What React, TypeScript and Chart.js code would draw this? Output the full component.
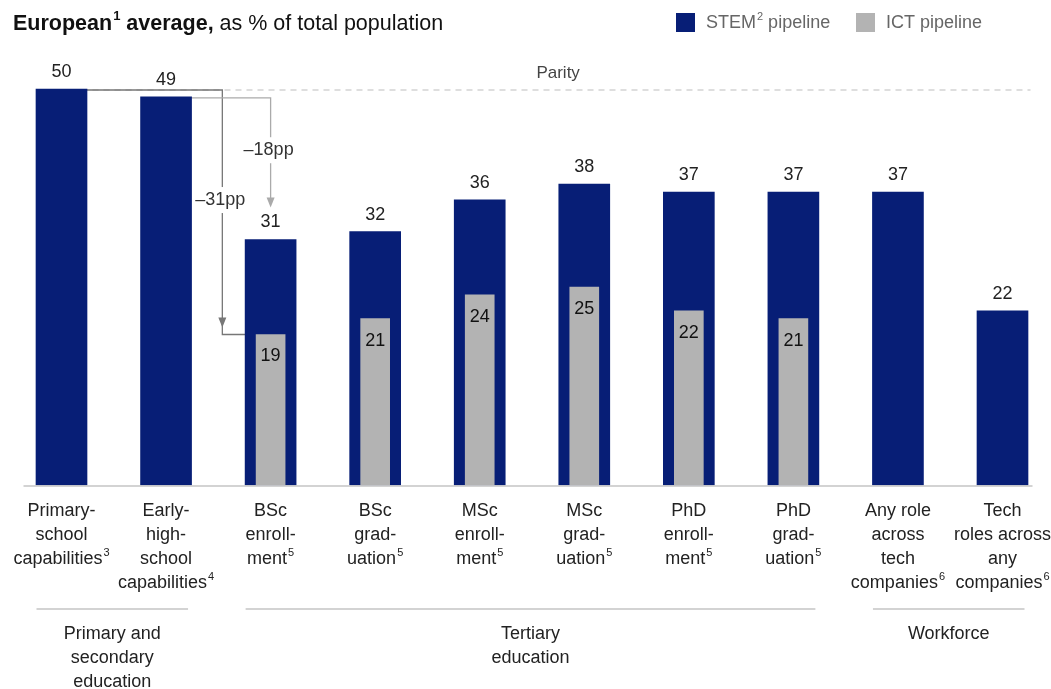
import React, { useEffect, useRef } from "react";
import { Chart, registerables } from "chart.js";

Chart.register(...registerables);

// ---------- data ----------
const categories: string[][] = [
  ["Primary-", "school", "capabilities^3"],
  ["Early-", "high-", "school", "capabilities^4"],
  ["BSc", "enroll-", "ment^5"],
  ["BSc", "grad-", "uation^5"],
  ["MSc", "enroll-", "ment^5"],
  ["MSc", "grad-", "uation^5"],
  ["PhD", "enroll-", "ment^5"],
  ["PhD", "grad-", "uation^5"],
  ["Any role", "across", "tech", "companies^6"],
  ["Tech", "roles across", "any", "companies^6"],
];
const stemValues: number[] = [50, 49, 31, 32, 36, 38, 37, 37, 37, 22];
const ictValues: (number | null)[] = [null, null, 19, 21, 24, 25, 22, 21, null, null];
const parityValue = 50;
const parityLabel = "Parity";
const groups = [
  { label: ["Primary and", "secondary", "education"], from: 0, to: 1 },
  { label: ["Tertiary", "education"], from: 2, to: 7 },
  { label: ["Workforce"], from: 8, to: 9 },
];
const drops = [
  { label: "–31pp", from: 0, to: 2, target: "ict", color: "#777777" },
  { label: "–18pp", from: 1, to: 2, target: "stem", color: "#aaaaaa" },
];
const seriesNames = ["STEM^2^ pipeline", "ICT pipeline"];

// ---------- style ----------
const NAVY = "#071e76";
const GRAY = "#b3b3b3";
const FONT = "'Liberation Sans', Arial, sans-serif";
const TEXT = "#222222";

type Seg = { t: string; bold?: boolean; sup?: boolean };

function segsFrom(text: string, bold = false): Seg[] {
  return text
    .split("^")
    .map((t, i) => ({ t, bold, sup: i % 2 === 1 }))
    .filter((s) => s.t.length > 0);
}

function drawRich(
  ctx: CanvasRenderingContext2D,
  segs: Seg[],
  x: number,
  y: number,
  size: number,
  color: string,
  align: "left" | "center" = "center"
) {
  const fontOf = (s: Seg) =>
    `${s.bold ? "bold " : ""}${s.sup ? Math.round(size * 0.62) : size}px ${FONT}`;
  let total = 0;
  const widths = segs.map((s) => {
    ctx.font = fontOf(s);
    const w = ctx.measureText(s.t).width + (s.sup ? 1 : 0);
    total += w;
    return w;
  });
  let cx = align === "center" ? x - total / 2 : x;
  ctx.textAlign = "left";
  ctx.textBaseline = "middle";
  ctx.fillStyle = color;
  segs.forEach((s, i) => {
    ctx.font = fontOf(s);
    ctx.fillText(s.t, cx + (s.sup ? 1 : 0), s.sup ? y - size * 0.36 : y);
    cx += widths[i];
  });
}

const overlayPlugin = {
  id: "overlay",
  beforeDatasetsDraw(chart: any) {
    const ctx: CanvasRenderingContext2D = chart.ctx;
    const xs = chart.scales.x;
    const ys = chart.scales.y;
    const px = (v: number) => xs.getPixelForValue(0) + v * (xs.getPixelForValue(1) - xs.getPixelForValue(0));
    ctx.save();
    // parity dashed line
    const yP = ys.getPixelForValue(parityValue);
    ctx.strokeStyle = "#bdbdbd";
    ctx.lineWidth = 1.2;
    ctx.setLineDash([6, 5]);
    ctx.beginPath();
    ctx.moveTo(px(0) + 20, yP + 1);
    ctx.lineTo(px(9) + 28, yP + 1);
    ctx.stroke();
    ctx.setLineDash([]);

    // drop arrows
    drops.forEach((d) => {
      const yFrom = ys.getPixelForValue(stemValues[d.from]) + 1;
      const toVal = d.target === "ict" ? (ictValues[d.to] as number) : stemValues[d.to];
      const yTo = ys.getPixelForValue(toVal);
      const ax = d.target === "ict" ? px(d.to - 0.5) + 4 : px(d.to);
      const tip = d.target === "ict" ? yTo - 7 : yTo - 32;
      ctx.strokeStyle = d.color;
      ctx.fillStyle = d.color;
      ctx.lineWidth = 1.3;
      ctx.beginPath();
      ctx.moveTo(px(d.from), yFrom);
      ctx.lineTo(ax, yFrom);
      if (d.target === "ict") {
        ctx.lineTo(ax, yTo);
        ctx.lineTo(px(d.to), yTo);
      } else {
        ctx.lineTo(ax, tip - 8);
      }
      ctx.stroke();
      // head
      ctx.beginPath();
      ctx.moveTo(ax, tip);
      ctx.lineTo(ax - 4, tip - 10);
      ctx.lineTo(ax + 4, tip - 10);
      ctx.closePath();
      ctx.fill();
      // label with white bg
      const ly = yFrom + 0.45 * ((d.target === "ict" ? yTo : tip) - yFrom) + (d.target === "ict" ? 0 : 3);
      ctx.font = `18px ${FONT}`;
      const w = ctx.measureText(d.label).width;
      ctx.fillStyle = "#ffffff";
      ctx.fillRect(ax - w / 2 - 3, ly - 13, w + 6, 26);
      drawRich(ctx, [{ t: d.label }], ax - 2, ly, 18, "#333333");
    });
    ctx.restore();
  },
  afterDatasetsDraw(chart: any) {
    const ctx: CanvasRenderingContext2D = chart.ctx;
    const xs = chart.scales.x;
    const ys = chart.scales.y;
    const px = (v: number) => xs.getPixelForValue(0) + v * (xs.getPixelForValue(1) - xs.getPixelForValue(0));
    const y0 = ys.getPixelForValue(0);
    ctx.save();

    // baseline
    ctx.strokeStyle = "#c4c4c4";
    ctx.lineWidth = 1.5;
    ctx.beginPath();
    ctx.moveTo(px(0) - 38, y0 + 1);
    ctx.lineTo(px(9) + 30, y0 + 1);
    ctx.stroke();

    // value labels
    stemValues.forEach((v, i) => {
      drawRich(ctx, [{ t: String(v) }], px(i), ys.getPixelForValue(v) - 17, 18, TEXT);
    });
    ictValues.forEach((v, i) => {
      if (v == null) return;
      drawRich(ctx, [{ t: String(v) }], px(i), ys.getPixelForValue(v) + 22, 18, "#111111");
    });

    // parity label
    drawRich(ctx, [{ t: parityLabel }], px(4.75), ys.getPixelForValue(parityValue) - 16, 17, "#444444");

    // category labels
    categories.forEach((lines, i) => {
      lines.forEach((ln, j) => {
        drawRich(ctx, segsFrom(ln), px(i), y0 + 26 + j * 24, 18, TEXT);
      });
    });

    // group lines & labels
    groups.forEach((g) => {
      const l = px(g.from) - 25;
      const r = px(g.to) + 22;
      ctx.strokeStyle = "#c4c4c4";
      ctx.lineWidth = 1.5;
      ctx.beginPath();
      ctx.moveTo(l, y0 + 124);
      ctx.lineTo(r, y0 + 124);
      ctx.stroke();
      g.label.forEach((ln, j) => {
        drawRich(ctx, [{ t: ln }], (l + r) / 2, y0 + 149 + j * 24, 18, TEXT);
      });
    });

    // title
    drawRich(
      ctx,
      [
        { t: "European", bold: true },
        { t: "1", bold: true, sup: true },
        { t: " average,", bold: true },
        { t: " as % of total population" },
      ],
      13,
      24,
      21.5,
      "#111111",
      "left"
    );

    // legend
    const legend = [
      { name: seriesNames[0], color: NAVY, x: 676 },
      { name: seriesNames[1], color: GRAY, x: 856 },
    ];
    legend.forEach((it) => {
      ctx.fillStyle = it.color;
      ctx.fillRect(it.x, 13, 19, 19);
      drawRich(ctx, segsFrom(it.name), it.x + 30, 23, 18, "#666666", "left");
    });
    ctx.restore();
  },
};

export default function App() {
  const ref = useRef<HTMLCanvasElement | null>(null);
  useEffect(() => {
    if (!ref.current) return;
    const chart = new Chart(ref.current, {
      type: "bar",
      data: {
        labels: categories.map((c) => c.join(" ").replace(/\^\d/g, "")),
        datasets: [
          {
            label: "ICT pipeline",
            data: ictValues,
            backgroundColor: GRAY,
            barThickness: 29,
            grouped: false,
            order: 0,
            clip: false,
          } as any,
          {
            label: "STEM pipeline",
            data: stemValues,
            backgroundColor: NAVY,
            barThickness: 51,
            grouped: false,
            order: 1,
            clip: false,
          } as any,
        ],
      },
      options: {
        responsive: false,
        animation: false,
        layout: { padding: { top: 89, bottom: 204, left: 61.5, right: 48.5 } },
        plugins: { legend: { display: false }, tooltip: { enabled: false } },
        scales: {
          x: { display: false, offset: false, grid: { display: false } },
          y: { display: false, min: 0, max: 50, grid: { display: false } },
        },
      },
      plugins: [overlayPlugin],
    });
    return () => chart.destroy();
  }, []);
  return (
    <div style={{ position: "fixed", left: 0, top: 0, width: 1051, height: 689, background: "#fff" }}>
      <canvas ref={ref} width={1051} height={689} style={{ width: 1051, height: 689, display: "block" }} />
    </div>
  );
}
